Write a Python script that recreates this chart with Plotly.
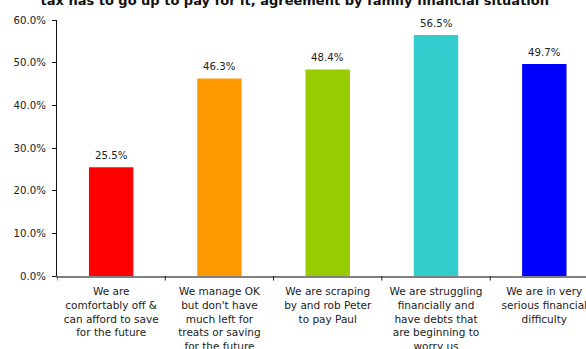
import plotly.graph_objects as go

# Share agreeing, by family financial situation
categories = [
    "We are<br>comfortably off &<br>can afford to save<br>for the future",
    "We manage OK<br>but don't have<br>much left for<br>treats or saving<br>for the future",
    "We are scraping<br>by and rob Peter<br>to pay Paul",
    "We are struggling<br>financially and<br>have debts that<br>are beginning to<br>worry us",
    "We are in very<br>serious financial<br>difficulty",
]
values = [25.5, 46.3, 48.4, 56.5, 49.7]
bar_colors = ["#FF0000", "#FF9900", "#99CC00", "#33CCCC", "#0000FF"]
y_ticks = [0, 10, 20, 30, 40, 50, 60]

title_text = "tax has to go up to pay for it, agreement by family financial situation"

FONT = "DejaVu Sans"
TEXT = "#222222"
FS = 10.2
FS_X = 10.5

x_idx = list(range(len(categories)))

fig = go.Figure(
    go.Bar(
        x=x_idx,
        y=values,
        marker=dict(color=bar_colors, line=dict(width=0)),
        width=0.41,
        hoverinfo="skip",
    )
)

# value labels above each bar
for i, v in zip(x_idx, values):
    fig.add_annotation(
        x=i, y=v, text=f"{v:.1f}%", showarrow=False,
        yanchor="bottom", yshift=4,
        font=dict(family=FONT, size=FS, color=TEXT),
    )

fig.update_layout(
    width=586, height=349,
    margin=dict(l=57, r=0, t=20, b=73, autoexpand=False),
    paper_bgcolor="white", plot_bgcolor="white",
    showlegend=False,
    title=dict(
        text=f"<b>{title_text}</b>",
        x=0.503, xanchor="center",
        y=1.0, yref="container", yanchor="middle",
        font=dict(family=FONT, size=13, color="#111111"),
    ),
    font=dict(family=FONT, color=TEXT),
)

fig.update_xaxes(
    range=[-0.5, 4.385],
    automargin=False,
    tickmode="array", tickvals=x_idx, ticktext=categories,
    showline=True, linecolor="#808080", linewidth=1.5,
    ticks="", showgrid=False, zeroline=False,
    tickfont=dict(family=FONT, size=FS_X, color=TEXT),
    tickangle=0,
    ticklabelstandoff=5,
    ticklabeloverflow="allow",
)
# category boundary tick marks
for b in [-0.5, 0.5, 1.5, 2.5, 3.5]:
    fig.add_shape(
        type="line", xref="x", yref="paper",
        x0=b, x1=b, y0=0, y1=-0.018,
        line=dict(color="#222222", width=1),
    )

fig.update_yaxes(
    range=[0, 60],
    automargin=False,
    tickmode="array", tickvals=y_ticks,
    ticktext=[f"{t:.1f}%" for t in y_ticks],
    showline=True, linecolor="#111111", linewidth=1,
    ticks="outside", ticklen=4, tickcolor="#111111",
    showgrid=False, zeroline=False,
    tickfont=dict(family=FONT, size=FS, color=TEXT),
    ticklabelstandoff=4,
)

fig.write_html("out.html")
